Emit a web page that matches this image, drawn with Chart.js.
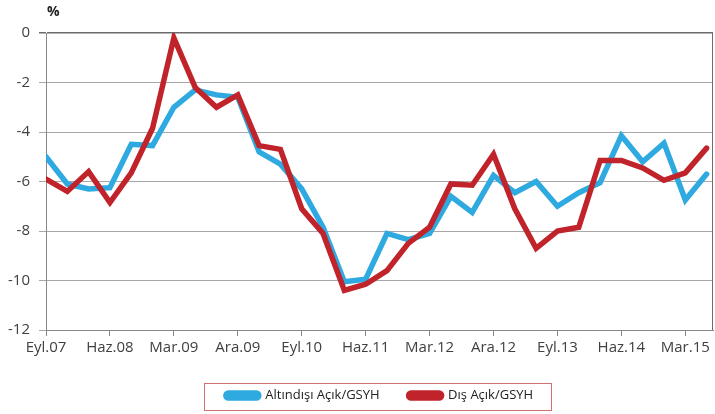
<html>
<head>
    <title>Açık / GSYH</title>
    <script src="https://cdn.jsdelivr.net/npm/chart.js"></script>
    <style>
        body { margin: 0; background: #fff; }
        #wrap { width: 715px; height: 414px; }
    </style>
</head>
<body>
    <div id="wrap"><canvas id="lineChart" width="715" height="414"></canvas></div>
    <script>
        // quarters, Eyl.07 .. Haz.15
        const quarters = ['Eyl.07','Ara.07','Mar.08','Haz.08','Eyl.08','Ara.08','Mar.09','Haz.09',
            'Eyl.09','Ara.09','Mar.10','Haz.10','Eyl.10','Ara.10','Mar.11','Haz.11',
            'Eyl.11','Ara.11','Mar.12','Haz.12','Eyl.12','Ara.12','Mar.13','Haz.13',
            'Eyl.13','Ara.13','Mar.14','Haz.14','Eyl.14','Ara.14','Mar.15','Haz.15'];
        const seriesNames = ['Altındışı Açık/GSYH', 'Dış Açık/GSYH'];
        const altindisi = [-5.0, -6.1, -6.3, -6.25, -4.5, -4.55, -3.0, -2.3, -2.5, -2.6, -4.8, -5.3,
            -6.3, -7.85, -10.05, -9.95, -8.1, -8.35, -8.1, -6.6, -7.25, -5.75, -6.45, -6.0,
            -7.0, -6.45, -6.05, -4.15, -5.2, -4.45, -6.75, -5.7];
        const disAcik = [-5.9, -6.4, -5.6, -6.85, -5.65, -3.85, -0.2, -2.2, -3.0, -2.5, -4.55, -4.7,
            -7.1, -8.1, -10.4, -10.15, -9.6, -8.5, -7.85, -6.1, -6.15, -4.9, -7.1, -8.7,
            -8.0, -7.85, -5.15, -5.15, -5.45, -5.95, -5.65, -4.65];
        const yTicks = [0, -2, -4, -6, -8, -10, -12];
        const labelEvery = 3;

        const frame = {
            id: 'frame',
            afterDraw(chart) {
                const ctx = chart.ctx, a = chart.chartArea;
                ctx.save();
                ctx.strokeStyle = '#6b6b6b';
                ctx.lineWidth = 1;
                ctx.beginPath();
                ctx.moveTo(a.right - 0.5, a.top);
                ctx.lineTo(a.right - 0.5, a.bottom);
                ctx.stroke();
                // unit
                ctx.fillStyle = '#222';
                ctx.font = 'bold 14px "Open Sans"';
                ctx.textBaseline = 'middle';
                ctx.fillText('%', 47, 12);
                // legend box
                const boxes = chart.legend.legendHitBoxes;
                if (boxes && boxes.length) {
                    const l = Math.min(...boxes.map(b => b.left)) - 22;
                    const r = Math.max(...boxes.map(b => b.left + b.width)) + 18;
                    const cy = boxes[0].top + boxes[0].height / 2;
                    ctx.strokeStyle = '#d07070';
                    ctx.strokeRect(Math.round(l) + 0.5, Math.round(cy - 13) + 0.5, Math.round(r - l), 27);
                }
                ctx.restore();
            }
        };

        new Chart(document.getElementById('lineChart'), {
            type: 'line',
            data: {
                datasets: [{
                    label: seriesNames[0],
                    data: altindisi.map((v, i) => ({x: i, y: v})),
                    borderColor: '#2eaae1',
                    backgroundColor: '#2eaae1',
                    borderWidth: 5.5,
                    order: 1
                }, {
                    label: seriesNames[1],
                    data: disAcik.map((v, i) => ({x: i, y: v})),
                    borderColor: '#c1232b',
                    backgroundColor: '#c1232b',
                    borderWidth: 5.5,
                    order: 0
                }]
            },
            options: {
                responsive: false,
                animation: false,
                layout: { padding: { top: 33, right: 2, left: 0, bottom: 2 } },
                elements: {
                    point: { radius: 0 },
                    line: { tension: 0, borderJoinStyle: 'miter', borderCapStyle: 'round' }
                },
                scales: {
                    x: {
                        type: 'linear',
                        min: 0,
                        max: 31.3,
                        afterBuildTicks: s => {
                            s.ticks = quarters.map((q, i) => i).filter(i => i % labelEvery === 0).map(i => ({value: i}));
                        },
                        ticks: {
                            autoSkip: false,
                            maxRotation: 0,
                            padding: 3,
                            color: '#404040',
                            font: { family: 'Open Sans', size: 15 },
                            callback: v => quarters[Math.round(v)]
                        },
                        grid: { drawOnChartArea: false, tickLength: 6, color: '#888' },
                        border: { color: '#888' }
                    },
                    y: {
                        min: -12,
                        max: 0,
                        afterFit: s => { s.width = 46; },
                        afterBuildTicks: s => { s.ticks = yTicks.map(v => ({value: v})); },
                        ticks: {
                            padding: 9,
                            color: '#404040',
                            font: { family: 'Open Sans', size: 15 }
                        },
                        grid: {
                            tickLength: 7,
                            color: c => c.tick && c.tick.value === 0 ? '#6b6b6b' : '#a8a8a8',
                            lineWidth: c => c.tick && c.tick.value === 0 ? 1.5 : 1
                        },
                        border: { color: '#888' }
                    }
                },
                plugins: {
                    legend: {
                        position: 'bottom',
                        fullSize: false,
                        labels: {
                            boxWidth: 33,
                            boxHeight: 5,
                            useBorderRadius: true,
                            borderRadius: 2.5,
                            padding: 29,
                            color: '#222',
                            font: { family: 'Open Sans', size: 13 },
                            sort: (a, b) => a.datasetIndex - b.datasetIndex
                        }
                    },
                    tooltip: { enabled: false }
                }
            },
            plugins: [frame]
        });
    </script>
</body>
</html>
